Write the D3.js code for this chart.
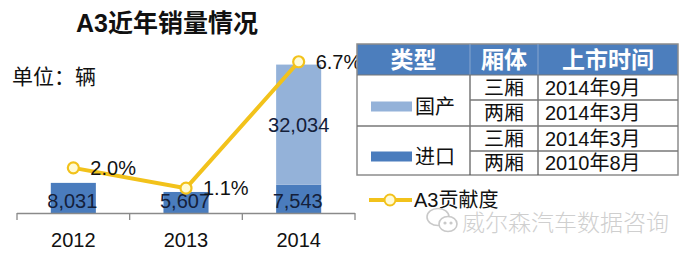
<!DOCTYPE html>
<html><head><meta charset="utf-8">
<script src="https://cdn.jsdelivr.net/npm/d3@7"></script>
<style>
html,body{margin:0;padding:0;background:#fff;}
svg{display:block;}
text{font-family:"Liberation Sans",Arial,"Noto Sans CJK SC",sans-serif;}
</style></head>
<body>
<svg id="c" width="692" height="256"></svg>
<script>
const years = ["2012", "2013", "2014"];
const importSales = [8031, 5607, 7543];
const domesticSales = [0, 0, 32034];
const shareLabels = ["2.0%", "1.1%", "6.7%"];
const share = [2.0, 1.1, 6.7];
const tableHeader = ["类型", "厢体", "上市时间"];
const tableTypes = ["国产", "进口"];
const tableBody = ["三厢", "两厢", "三厢", "两厢"];
const tableDates = ["2014年9月", "2014年3月", "2014年3月", "2010年8月"];
const legendLine = "A3贡献度";
const titleText = "A3近年销量情况";
const unitText = "单位：辆";
const watermark = "威尔森汽车数据咨询";

const cDark = "#4a7cbd", cLight = "#94b2d9", cGold = "#f2c21b";
const svg = d3.select("#c");

// title & unit
svg.append("text").attr("x", 167).attr("y", 32).attr("text-anchor", "middle")
  .attr("font-size", 25).attr("font-weight", "bold").attr("fill", "#111").text(titleText);
svg.append("text").attr("x", 12).attr("y", 84).attr("font-size", 21).attr("fill", "#111").text(unitText);

// scales
const x = d3.scaleBand().domain(years).range([17, 355]).paddingInner(0.6).paddingOuter(0.3);
const y = d3.scaleLinear().domain([0, 40000]).range([213, 63]);
const y2 = d3.scaleLinear().domain([0, 7]).range([213, 55]);

// bars
const g = svg.append("g");
g.selectAll("rect.imp").data(years).join("rect")
  .attr("x", d => x(d)).attr("width", x.bandwidth())
  .attr("y", (d, i) => y(importSales[i])).attr("height", (d, i) => y(0) - y(importSales[i]))
  .attr("fill", cDark);
g.selectAll("rect.dom").data(years).join("rect")
  .attr("x", d => x(d)).attr("width", x.bandwidth())
  .attr("y", (d, i) => y(importSales[i] + domesticSales[i]))
  .attr("height", (d, i) => y(0) - y(domesticSales[i]))
  .attr("fill", cLight);

// axis
const step = x.step();
const bounds = [0, 1, 2, 3].map(i => 17 + i * step);
svg.append("line").attr("x1", 17).attr("x2", 355).attr("y1", 213.5).attr("y2", 213.5)
  .attr("stroke", "#8a8a8a").attr("stroke-width", 1.3);
svg.selectAll("line.tk").data(bounds).join("line")
  .attr("x1", d => d).attr("x2", d => d).attr("y1", 213).attr("y2", 220)
  .attr("stroke", "#8a8a8a").attr("stroke-width", 1.3);
svg.selectAll("text.cat").data(years).join("text")
  .attr("x", d => x(d) + x.bandwidth() / 2).attr("y", 247).attr("text-anchor", "middle")
  .attr("font-size", 20).attr("fill", "#111").text(d => d);

// bar labels
const fmt = d3.format(",");
svg.selectAll("text.iv").data(years).join("text")
  .attr("x", d => x(d) + x.bandwidth() / 2 - 1).attr("y", 208).attr("text-anchor", "middle")
  .attr("font-size", 20).attr("fill", "#14203a").text((d, i) => fmt(importSales[i]));
svg.selectAll("text.dv").data(years.filter((d, i) => domesticSales[i] > 0)).join("text")
  .attr("x", d => x(d) + x.bandwidth() / 2).attr("y", (d) => {
    const i = years.indexOf(d);
    return y(importSales[i] + domesticSales[i] / 2) + 7;
  }).attr("text-anchor", "middle")
  .attr("font-size", 20).attr("fill", "#14203a").text(d => fmt(domesticSales[years.indexOf(d)]));

// line
const cx = d => x(d) + x.bandwidth() / 2;
const line = d3.line().x((d, i) => cx(years[i])).y(d => y2(d));
svg.append("path").datum(share).attr("d", line).attr("fill", "none")
  .attr("stroke", cGold).attr("stroke-width", 4).attr("stroke-linejoin", "round");
svg.selectAll("circle.m").data(share).join("circle")
  .attr("cx", (d, i) => cx(years[i])).attr("cy", d => y2(d)).attr("r", 5.5)
  .attr("fill", "#fffbd6").attr("stroke", cGold).attr("stroke-width", 2.2);
svg.selectAll("text.pl").data(share).join("text")
  .attr("x", (d, i) => cx(years[i]) + 17).attr("y", d => y2(d) + 7)
  .attr("font-size", 20).attr("fill", "#111").text((d, i) => shareLabels[i]);

// table
const tX = [357, 470, 538, 678];
const tY = [44, 75, 100, 126, 151, 175];
const tg = svg.append("g");
tg.append("rect").attr("x", tX[0]).attr("y", tY[0]).attr("width", tX[3] - tX[0]).attr("height", tY[1] - tY[0])
  .attr("fill", "#4c7ebd");
tableHeader.forEach((t, i) => {
  tg.append("text").attr("x", (tX[i] + tX[i + 1]) / 2).attr("y", 68).attr("text-anchor", "middle")
    .attr("font-size", 23).attr("font-weight", "bold").attr("fill", "#fff").text(t);
});
// borders
const lc = "#8c8c8c";
tg.append("rect").attr("x", tX[0]).attr("y", tY[0]).attr("width", tX[3] - tX[0]).attr("height", tY[5] - tY[0])
  .attr("fill", "none").attr("stroke", lc).attr("stroke-width", 1.5);
[tX[1], tX[2]].forEach(xx => tg.append("line").attr("x1", xx).attr("x2", xx).attr("y1", tY[1]).attr("y2", tY[5])
  .attr("stroke", "#555").attr("stroke-width", 1.2));
[tX[1], tX[2]].forEach(xx => tg.append("line").attr("x1", xx).attr("x2", xx).attr("y1", tY[0]).attr("y2", tY[1])
  .attr("stroke", "#7f9fcc").attr("stroke-width", 1.2));
tg.append("line").attr("x1", tX[0]).attr("x2", tX[3]).attr("y1", tY[1]).attr("y2", tY[1]).attr("stroke", "#777").attr("stroke-width", 1.2);
tg.append("line").attr("x1", tX[0]).attr("x2", tX[3]).attr("y1", tY[3]).attr("y2", tY[3]).attr("stroke", "#777").attr("stroke-width", 1.5);
[tY[2], tY[4]].forEach(yy => tg.append("line").attr("x1", tX[1]).attr("x2", tX[3]).attr("y1", yy).attr("y2", yy)
  .attr("stroke", "#777").attr("stroke-width", 1.5));
tableBody.forEach((t, i) => {
  const yc = (tY[i + 1] + tY[i + 2]) / 2;
  tg.append("text").attr("x", (tX[1] + tX[2]) / 2).attr("y", yc + 7).attr("text-anchor", "middle")
    .attr("font-size", 20).attr("fill", "#111").text(t);
  tg.append("text").attr("x", tX[2] + 7).attr("y", yc + 7)
    .attr("font-size", 20).attr("fill", "#111").text(tableDates[i]);
});
const swatchCols = [cLight, cDark];
tableTypes.forEach((t, i) => {
  const yc = (tY[1 + 2 * i] + tY[3 + 2 * i]) / 2 + 6;
  tg.append("rect").attr("x", 371).attr("y", yc - 5).attr("width", 41).attr("height", 10).attr("fill", swatchCols[i]);
  tg.append("text").attr("x", 415).attr("y", yc + 7).attr("font-size", 20).attr("fill", "#111").text(t);
});

// legend
svg.append("line").attr("x1", 369).attr("x2", 412).attr("y1", 200).attr("y2", 200)
  .attr("stroke", cGold).attr("stroke-width", 4);
svg.append("circle").attr("cx", 390).attr("cy", 200).attr("r", 5.5)
  .attr("fill", "#fffbd6").attr("stroke", cGold).attr("stroke-width", 2);
svg.append("text").attr("x", 414).attr("y", 207).attr("font-size", 20).attr("fill", "#111").text(legendLine);

// watermark
const wm = svg.append("g").attr("stroke", "#c9c9c9").attr("fill", "#fff").attr("stroke-width", 1.6);
wm.append("ellipse").attr("cx", 438).attr("cy", 217).attr("rx", 11).attr("ry", 8.5);
wm.append("ellipse").attr("cx", 448).attr("cy", 224).attr("rx", 9).attr("ry", 7.5);
wm.append("circle").attr("cx", 445).attr("cy", 223).attr("r", 0.8).attr("fill", "#c9c9c9");
wm.append("circle").attr("cx", 451).attr("cy", 223).attr("r", 0.8).attr("fill", "#c9c9c9");
svg.append("text").attr("x", 462).attr("y", 231).attr("font-size", 23).attr("fill", "#cfcfcf")
  .attr("font-weight", 300).text(watermark);
</script>
</body></html>
